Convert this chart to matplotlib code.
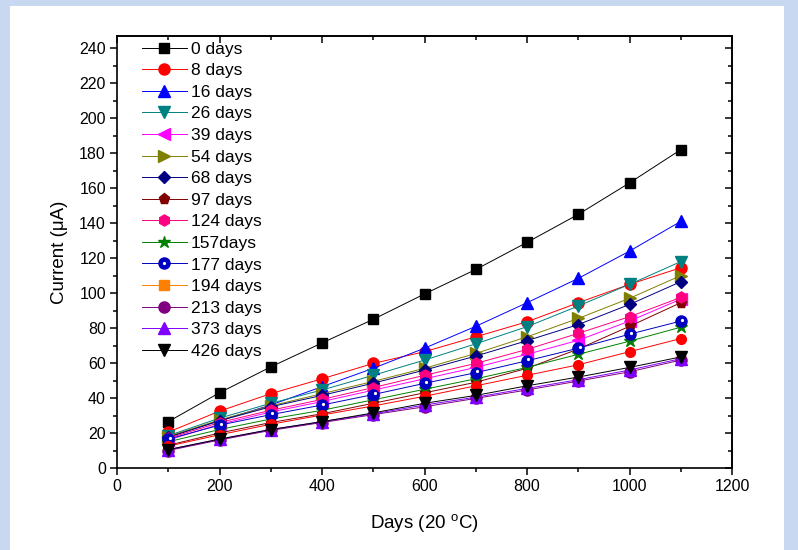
import matplotlib
matplotlib.use("Agg")
import matplotlib.pyplot as plt
import matplotlib.transforms as mtransforms
from matplotlib.patches import Rectangle
from matplotlib.lines import Line2D
from matplotlib.legend_handler import HandlerTuple
from matplotlib.ticker import MultipleLocator

plt.rcParams['font.family'] = ['Liberation Sans', 'DejaVu Sans']
plt.rcParams['mathtext.fontset'] = 'custom'
plt.rcParams['mathtext.rm'] = 'Liberation Sans'

# data
days = [100, 200, 300, 400, 500, 600, 700, 800, 900, 1000, 1100]
labels = ['0 days', '8 days', '16 days', '26 days', '39 days', '54 days', '68 days',
          '97 days', '124 days', '157days', '177 days', '194 days', '213 days',
          '373 days', '426 days']

d0 = [26.5, 43, 57.8, 71.5, 85, 99.5, 113.5, 129, 145, 163, 182]
d8 = [20.5, 32.5, 42.5, 51, 59.8, 66.5, 75, 83.6, 94.5, 105, 114.5]
d16 = [18, 27, 36, 46.5, 57, 68.5, 81, 94.5, 108.4, 124, 141]
d26 = [18.5, 28.5, 37, 44.6, 53, 61.7, 71, 80.8, 92.6, 105, 118]
d39 = [16, 25, 32, 38, 44.5, 51, 57.5, 65, 73, 84, 96.5]
d54 = [18, 27.5, 35.5, 42.5, 49.5, 57, 65.5, 75, 85.5, 97, 110]
d68 = [17.5, 27, 35, 41.5, 48.5, 56, 64, 72.8, 82, 93.5, 106.5]
d97 = [13, 20, 26, 31, 37, 43, 49, 57, 68, 81, 94.5]
d124 = [17, 26, 33, 39.2, 46, 53, 59.8, 67.8, 77, 86.5, 97.5]
d157 = [15, 22, 28, 33, 39, 45, 51, 57.5, 65, 72.5, 80.5]
d177 = [16.5, 24.5, 30.5, 36, 42, 48.4, 54.5, 61.3, 68.5, 76.5, 84]
d194 = [12.5, 19, 25, 30.3, 35.5, 41, 47, 53, 59, 66.5, 74]
d213 = [10, 16, 21.5, 26, 30.5, 35, 39.8, 44.6, 49.7, 55, 61.7]
d373 = [10.5, 16.5, 22, 26.5, 31, 36, 40.5, 45.5, 50.5, 56, 62.5]
d426 = [10.5, 16.5, 22, 26.5, 31.5, 37, 41.5, 47, 52, 57.5, 63.5]
series = [d0, d8, d16, d26, d39, d54, d68, d97, d124, d157, d177, d194, d213, d373, d426]

markers = ['s', 'o', '^', 'v', '<', '>', 'D', 'p', 'h', '*', 'o', 's', 'o', '^', 'v']
colors = ['black', '#ff0000', '#0000ff', '#008080', '#ff00ff', '#808000', '#000080',
          '#800000', '#ff0080', '#008000', '#0000c0', '#ff8000', '#800080', '#8000ff', 'black']
sizes = [7, 8, 8, 8, 8, 8, 6.5, 8, 8, 9, 8, 7, 8, 8, 8]
# in the plot the 194 days points show up as red dots
plot_markers = list(markers)
plot_colors = list(colors)
plot_markers[11] = 'o'
plot_colors[11] = '#ff0000'

fig = plt.figure(figsize=(7.98, 5.5), dpi=100, facecolor='#c8d8f0')
fig.patches.append(Rectangle((10 / 798, 0), 774 / 798, 544 / 550, transform=fig.transFigure,
                             facecolor='white', edgecolor='none', zorder=-10))
ax = fig.add_axes([117 / 798, 1 - 468 / 550, 615 / 798, 432 / 550])
ax.set_facecolor('white')

handles = []
for i, vals in enumerate(series):
    ax.plot(days, vals, color=plot_colors[i], lw=0.7, marker=plot_markers[i],
            ms=sizes[i], mec=plot_colors[i], mfc=plot_colors[i], zorder=2 + i * 0.01)
    h = Line2D([], [], color=colors[i], lw=0.7, marker=markers[i], ms=sizes[i],
               mec=colors[i], mfc=colors[i])
    if i == 10:
        shift = mtransforms.offset_copy(ax.transData, fig=fig, x=1, y=1, units='points')
        ax.plot(days, vals, ls='none', marker='o', ms=2.3, mfc='white', mew=0,
                transform=shift, zorder=2.2)
        dot = Line2D([], [], ls='none', marker='o', ms=2.3, mfc='white', mew=0)
        h = (h, dot)
    handles.append(h)

ax.set_xlim(0, 1200)
ax.set_ylim(0, 247)
ax.xaxis.set_major_locator(MultipleLocator(200))
ax.xaxis.set_minor_locator(MultipleLocator(100))
ax.yaxis.set_major_locator(MultipleLocator(20))
ax.yaxis.set_minor_locator(MultipleLocator(10))
ax.tick_params(which='both', direction='out', width=1.1, labelsize=11.5, pad=3)
ax.tick_params(which='major', length=5)
ax.tick_params(which='minor', length=3)
for s in ax.spines.values():
    s.set_linewidth(1.2)

top = ax.secondary_xaxis('top')
top.xaxis.set_major_locator(MultipleLocator(200))
top.xaxis.set_minor_locator(MultipleLocator(100))
top.tick_params(which='both', direction='in', width=1.1, labeltop=False)
top.tick_params(which='major', length=5)
top.tick_params(which='minor', length=3)
top.spines['top'].set_linewidth(1.2)
right = ax.secondary_yaxis('right')
right.yaxis.set_major_locator(MultipleLocator(20))
right.yaxis.set_minor_locator(MultipleLocator(10))
right.tick_params(which='both', direction='in', width=1.1, labelright=False)
right.tick_params(which='major', length=5)
right.tick_params(which='minor', length=3)
right.spines['right'].set_linewidth(1.2)

ax.set_xlabel('Days (20 $^{\\rm o}$C)', fontsize=13.5, labelpad=13)
ax.set_ylabel('Current (\u03bcA)', fontsize=13.5, labelpad=8)

ax.legend(handles, labels, loc='upper left', bbox_to_anchor=(0.04, 0.987), frameon=False,
          fontsize=12.5, handlelength=2.6, handletextpad=0.25, labelspacing=0.37,
          borderpad=0, borderaxespad=0, numpoints=1,
          handler_map={tuple: HandlerTuple(ndivide=1, pad=0)})

fig.savefig('out.png', dpi=100, facecolor=fig.get_facecolor())
